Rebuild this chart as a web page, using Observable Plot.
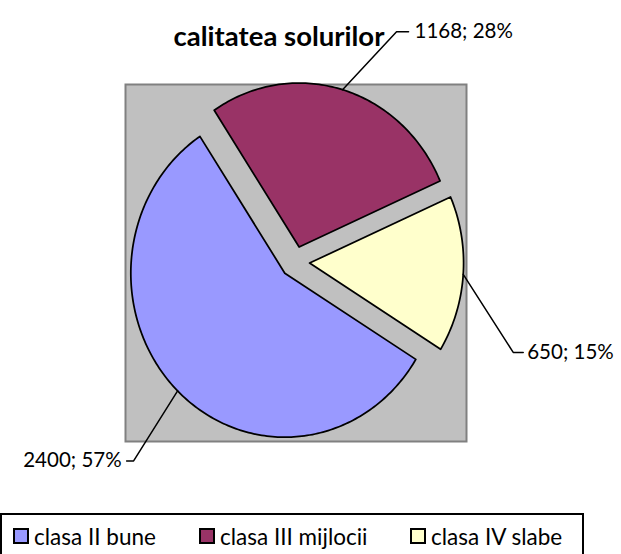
<!DOCTYPE html>
<html>
<head>
<meta charset="utf-8">
<script src="https://cdn.jsdelivr.net/npm/d3@7"></script>
<script src="https://cdn.jsdelivr.net/npm/@observablehq/plot@0.6"></script>
<style>
  html, body { margin: 0; padding: 0; background: #fff; overflow: hidden; }
  body { width: 621px; height: 554px; position: relative; font-family: Lato, "Open Sans", sans-serif; }
  #legend { position: absolute; left: 0; top: 513px; width: 584px; height: 60px; box-sizing: border-box; border: 2px solid #000; }
  .item { position: absolute; top: 8px; height: 26px; display: flex; align-items: center; font-size: 22.5px; color: #000; white-space: nowrap; }
  .sw { width: 12px; height: 12px; border: 2px solid #000; margin-right: 5px; flex: none; }
</style>
</head>
<body>
<div id="chart"></div>
<div id="legend"></div>
<script>
// ---- data ----
const title = "calitatea solurilor";
const categories = ["clasa II bune", "clasa III mijlocii", "clasa IV slabe"];
const values = [2400, 1168, 650];
const percents = ["57%", "28%", "15%"];
const colors = ["#9999FF", "#993366", "#FFFFCC"];

// ---- layout ----
const W = 621, H = 513;
const frame = {left: 125, right: 466, top: 84, bottom: 441};
const cx = 294.5, cy = 261.5, rx = 154, ry = 164; // pie centre and radii (px)
const firstAngle = 121.7;   // degrees, clockwise from 12 o'clock
const explode = 0.095;      // in radius units
// leader line offsets (px) from rim midpoint: elbow, then horizontal end
const leaders = [
  {dx: -44, dy: 70, hx: -7, anchor: "end", tdx: -5},
  {dx: 54, dy: -58, hx: 12, anchor: "start", tdx: 6},
  {dx: 50, dy: 78, hx: 10, anchor: "start", tdx: 4}
];

const xDomain = [(frame.left - cx) / rx, (frame.right - cx) / rx];
const yDomain = [-(frame.bottom - cy) / ry, (cy - frame.top) / ry];

const total = d3.sum(values);
const rad = Math.PI / 180;
let acc = firstAngle;
const slices = categories.map((name, i) => {
  const a0 = acc, a1 = acc + values[i] / total * 360;
  acc = a1;
  return {name, a0, a1, mid: (a0 + a1) / 2, i};
});

const polys = [];
const leaderPts = [];
const labels = [];
for (const s of slices) {
  const m = s.mid * rad;
  const ox = explode * Math.sin(m), oy = explode * Math.cos(m);
  polys.push({name: s.name, x: ox, y: oy});
  const n = Math.max(8, Math.ceil(s.a1 - s.a0));
  for (let k = 0; k <= n; k++) {
    const a = (s.a0 + (s.a1 - s.a0) * k / n) * rad;
    polys.push({name: s.name, x: ox + Math.sin(a), y: oy + Math.cos(a)});
  }
  const L = leaders[s.i];
  const rimx = ox + Math.sin(m), rimy = oy + Math.cos(m);
  const ex = rimx + L.dx / rx, ey = rimy - L.dy / ry;
  const hx = ex + L.hx / rx;
  leaderPts.push({name: s.name, x: rimx, y: rimy});
  leaderPts.push({name: s.name, x: ex, y: ey});
  leaderPts.push({name: s.name, x: hx, y: ey});
  labels.push({text: `${values[s.i]}; ${percents[s.i]}`, x: hx, y: ey, anchor: L.anchor, dx: L.tdx});
}

const plot = Plot.plot({
  width: W, height: H,
  marginLeft: frame.left, marginRight: W - frame.right,
  marginTop: frame.top, marginBottom: H - frame.bottom,
  x: {domain: xDomain, axis: null},
  y: {domain: yDomain, axis: null},
  color: {domain: categories, range: colors},
  style: {fontFamily: "Lato, 'Open Sans', sans-serif", overflow: "visible"},
  marks: [
    Plot.frame({fill: "#C0C0C0", stroke: "#808080", strokeWidth: 2}),
    Plot.line(polys, {x: "x", y: "y", z: "name", fill: "name", stroke: "#000", strokeWidth: 1.75, curve: "linear-closed"}),
    Plot.line(leaderPts, {x: "x", y: "y", z: "name", stroke: "#000", strokeWidth: 1.5}),
    ...labels.map(l => Plot.text([l], {x: "x", y: "y", text: "text", textAnchor: l.anchor, dx: l.dx, fontSize: 20.5, fill: "#000"})),
    Plot.text([title], {frameAnchor: "top", dx: -17, dy: -58, text: d => d, fontSize: 27.5, fontWeight: "bold", fill: "#000"})
  ]
});
document.getElementById("chart").appendChild(plot);

// legend
const legendX = [13, 199, 410];
const leg = document.getElementById("legend");
categories.forEach((c, i) => {
  const it = document.createElement("div");
  it.className = "item";
  it.style.left = (legendX[i] - 2) + "px";
  const sw = document.createElement("div");
  sw.className = "sw";
  sw.style.background = colors[i];
  const t = document.createElement("span");
  t.textContent = c;
  it.appendChild(sw); it.appendChild(t);
  leg.appendChild(it);
});
</script>
</body>
</html>
